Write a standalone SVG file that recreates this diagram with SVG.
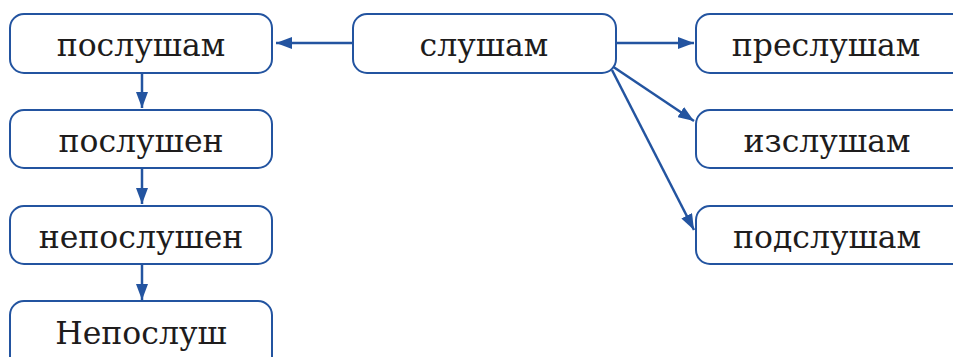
<svg xmlns="http://www.w3.org/2000/svg" width="953" height="357" viewBox="0 0 953 357">
<defs>
<style>
.box{fill:#fff;stroke:#2354a0;stroke-width:2}
.lbl{font-family:"DejaVu Serif","Liberation Serif",serif;font-size:31.5px;fill:#1e1c1c;text-anchor:middle}
.con{stroke:#2354a0;stroke-width:2.5;fill:none}
</style>
<marker id="a" viewBox="0 0 16 12" refX="16" refY="6" markerWidth="16" markerHeight="12" markerUnits="userSpaceOnUse" orient="auto">
<path d="M0,0 L16,6 L0,12 Z" fill="#2354a0"/>
</marker>
</defs>
<rect width="953" height="357" fill="#fff"/>
<g id="connectors">
<line class="con" x1="352" y1="43" x2="276" y2="43" marker-end="url(#a)"/>
<line class="con" x1="617" y1="43" x2="694" y2="43" marker-end="url(#a)"/>
<line class="con" x1="612" y1="66" x2="694" y2="121" marker-end="url(#a)"/>
<line class="con" x1="612" y1="70" x2="694" y2="230" marker-end="url(#a)"/>
<line class="con" x1="142" y1="73" x2="142" y2="108" marker-end="url(#a)"/>
<line class="con" x1="142" y1="168" x2="142" y2="204" marker-end="url(#a)"/>
<line class="con" x1="142" y1="264" x2="142" y2="300" marker-end="url(#a)"/>
</g>
<g id="n-poslusham"><rect class="box" x="10" y="14" width="262" height="59" rx="14"/><text class="lbl" x="141" y="56">послушам</text></g>
<g id="n-poslushen"><rect class="box" x="10" y="110" width="262" height="58" rx="14"/><text class="lbl" x="141" y="152">послушен</text></g>
<g id="n-neposlushen"><rect class="box" x="10" y="206" width="262" height="58" rx="14"/><text class="lbl" x="141" y="248">непослушен</text></g>
<g id="n-neposlush"><rect class="box" x="10" y="301" width="262" height="70" rx="14"/><text class="lbl" x="141" y="344">Непослуш</text></g>
<g id="n-slusham"><rect class="box" x="353" y="14" width="263" height="59" rx="14"/><text class="lbl" x="484" y="56">слушам</text></g>
<g id="n-preslusham"><rect class="box" x="696" y="14" width="275" height="59" rx="14"/><text class="lbl" x="826" y="56">преслушам</text></g>
<g id="n-izslusham"><rect class="box" x="696" y="110" width="275" height="58" rx="14"/><text class="lbl" x="827" y="152">изслушам</text></g>
<g id="n-podslusham"><rect class="box" x="696" y="206" width="275" height="58" rx="14"/><text class="lbl" x="827" y="248">подслушам</text></g>
</svg>
